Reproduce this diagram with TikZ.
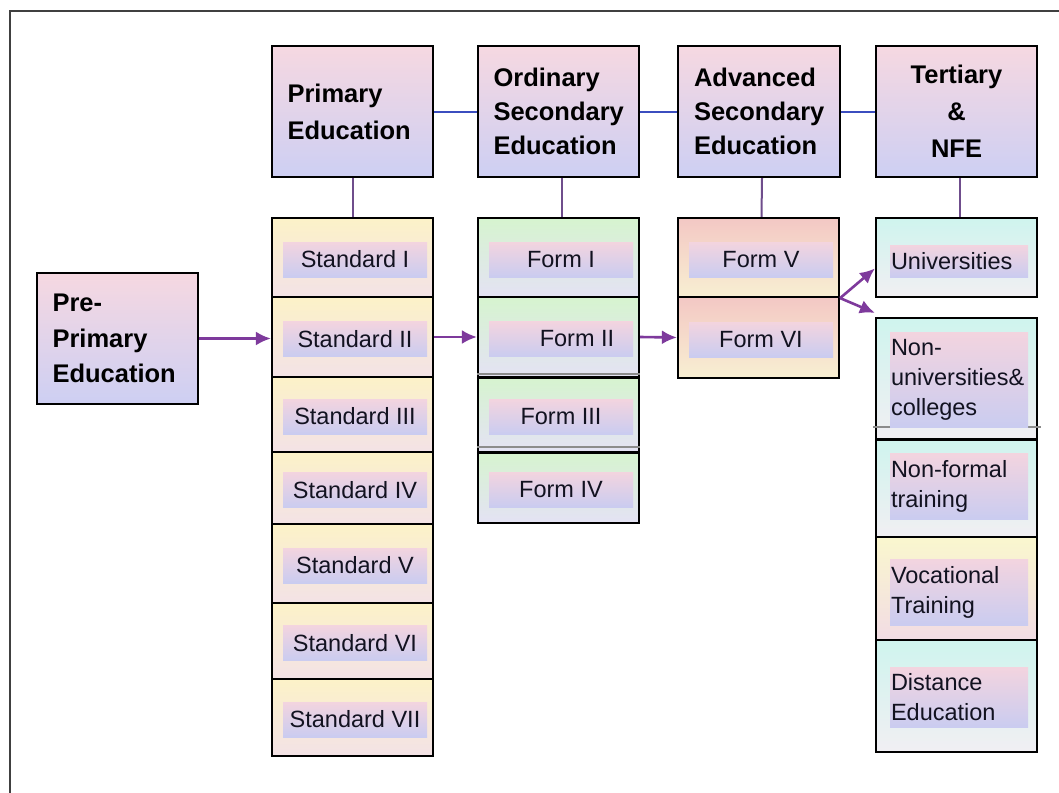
\documentclass[tikz,border=0pt]{standalone}
\usepackage{fontspec}
\setmainfont{Liberation Sans}
\usetikzlibrary{arrows.meta}

% header and label gradients
\definecolor{headtop}{HTML}{F6D8E1}
\definecolor{headbot}{HTML}{CDCFF3}
\definecolor{bandtop}{HTML}{F3D4DF}
\definecolor{bandbot}{HTML}{CACCF0}
% column backgrounds
\definecolor{stdtop}{HTML}{FCF2C8}
\definecolor{stdbot}{HTML}{F3E2E6}
\definecolor{frmtop}{HTML}{D6F4CF}
\definecolor{frmbot}{HTML}{E4E2F4}
\definecolor{advtop}{HTML}{F3C8C4}
\definecolor{advbot}{HTML}{F8EFD2}
\definecolor{tertop}{HTML}{CFF4EE}
\definecolor{terbot}{HTML}{F1EFF3}
\definecolor{voctop}{HTML}{FAF7CE}
\definecolor{vocbot}{HTML}{F2DCE4}
% connectors
\definecolor{linkblue}{HTML}{3B4DBF}
\definecolor{stemcol}{HTML}{6F4D8C}
\definecolor{flowcol}{HTML}{7E3A9C}
\definecolor{labeltext}{HTML}{121220}

\newcommand\hdfont{\fontsize{25.5}{34}\selectfont\bfseries}
\newcommand\lbfont{\fontsize{23.5}{30}\selectfont}

\begin{document}
\begin{tikzpicture}[x=1pt,y=-1pt,
  box/.style={draw=black,line width=2.2pt,inner sep=0pt,minimum width=161},
  head/.style={box,top color=headtop,bottom color=headbot,minimum height=131,
    text width=130,align=left,font=\hdfont},
  stdrow/.style={box,top color=stdtop,bottom color=stdbot},
  frmrow/.style={box,top color=frmtop,bottom color=frmbot},
  advrow/.style={box,top color=advtop,bottom color=advbot},
  terrow/.style={box,top color=tertop,bottom color=terbot},
  vocrow/.style={box,top color=voctop,bottom color=vocbot},
  band/.style={inner sep=0pt,top color=bandtop,bottom color=bandbot,
    minimum width=144,minimum height=35,font=\lbfont,text=labeltext},
  tband/.style={band,minimum width=138,text width=136,align=left,inner xsep=1pt},
  link/.style={linkblue,line width=2pt},
  stemline/.style={stemcol,line width=2pt},
  flowarrow/.style={flowcol,line width=2.6pt,-{Latex[length=15pt,width=14pt]}},
  ghost/.style={black!45,line width=2pt},
]
\useasboundingbox (0,0) rectangle (1059,792);
\fill[white] (0,0) rectangle (1059,792);
\begin{scope}
  \clip (0,0) rectangle (1059,792);
  \draw[black!75,line width=2pt] (10,11) rectangle (1090,830);
\end{scope}

% level headers
\node[head] (pre)  at (117.5,338.5) {Pre-\\[1.5pt]Primary\\[1.5pt]Education};
\node[head] (prim) at (352.5,111.5) {Primary\\[3pt]Education};
\node[head] (ord)  at (558.5,111.5) {Ordinary\\Secondary\\Education};
\node[head,minimum width=162] (adv) at (759,111.5) {Advanced\\Secondary\\Education};
\node[head,align=center] (ter) at (956.5,111.5) {Tertiary\\[3pt]\&\\[3pt]NFE};

% column rows
\foreach \n/\a/\b in {s1/218/297,s2/297/377,s3/377/452,s4/452/524,s5/524/603,s6/603/679,s7/679/756}
  \node[stdrow,minimum height={\b-\a}] (\n) at (352.5,{(\a+\b)/2}) {};
\foreach \n/\a/\b in {f1/218/297,f2/297/377,f3/377/452,f4/452/523}
  \node[frmrow,minimum height={\b-\a}] (\n) at (558.5,{(\a+\b)/2}) {};
\foreach \n/\a/\b in {a1/218/297,a2/297/378}
  \node[advrow,minimum height={\b-\a}] (\n) at (758.5,{(\a+\b)/2}) {};
\node[terrow,minimum height=79]  (uni) at (956.5,257.5) {};
\node[terrow,minimum height=121] (nu)  at (956.5,378.5) {};
\node[terrow,minimum height=98]  (nf)  at (956.5,488) {};
\node[vocrow,minimum height=103] (voc) at (956.5,588.5) {};
\node[terrow,minimum height=112] (de)  at (956.5,696) {};

% faint seams above some row borders
\draw[ghost] ([yshift=4pt]f2.south west) -- ([yshift=4pt]f2.south east);
\draw[ghost] ([yshift=6pt]f3.south west) -- ([yshift=6pt]f3.south east);
\draw[ghost] ([yshift=13pt,xshift=-2pt]nu.south west) -- ([yshift=13pt,xshift=3pt]nu.south east);
\draw[black,line width=2.2pt] (f2.south west) -- (f2.south east);
\draw[black,line width=2.2pt] (f3.south west) -- (f3.south east);
\draw[black,line width=2.2pt] (nu.south west) -- (nu.south east);

% labels on gradient bands
\foreach \n/\a/\b/\t in {s1/218/297/Standard I,s2/297/377/Standard II,s3/377/452/Standard III,
    s4/452/524/Standard IV,s5/524/603/Standard V,s6/603/679/Standard VI,s7/679/756/Standard VII}
  \node[band] (\n-t) at (355,{(\a+\b)/2+2}) {\t};
\foreach \n/\a/\b/\t in {f1/218/297/Form I,f2/297/377/{\hspace*{32pt}Form II},
    f3/377/452/Form III,f4/452/523/Form IV}
  \node[band] (\n-t) at (561,{(\a+\b)/2+2}) {\t};
\node[band] (a1-t) at (761,259.5) {Form V};
\node[band] (a2-t) at (761,339.5) {Form VI};
\node[tband,minimum height=32] (uni-t) at (959,261)   {Universities};
\node[tband,minimum height=95] (nu-t)  at (959,379.5) {Non-\\universities\&\\colleges};
\node[tband,minimum height=66] (nf-t)  at (959,486)   {Non-formal\\training};
\node[tband,minimum height=66] (voc-t) at (959,592)   {Vocational\\Training};
\node[tband,minimum height=60] (de-t)  at (959,697)   {Distance\\Education};

% links between the level headers
\draw[link] (prim.east) -- (ord.west);
\draw[link] (ord.east) -- (adv.west);
\draw[link] (adv.east) -- (ter.west);

% stems from headers to their columns
\draw[stemline] (prim.south) -- (s1.north);
\draw[stemline] ([xshift=3pt]ord.south) -- ([xshift=3pt]f1.north);
\draw[stemline] ([xshift=3pt]adv.south) -- ([xshift=3pt]a1.north);
\draw[stemline] ([xshift=3pt]ter.south) -- ([xshift=3pt]uni.north);

% progression arrows
\draw[flowarrow] (pre.east) -- (pre.east -| s2.west);
\draw[flowarrow] (s2.east) -- (f2.west);
\draw[flowarrow] (f2.east) -- (a2.west);
\coordinate (fork) at (a1.south east);
\draw[flowarrow] (fork) -- ([yshift=-11pt]uni.west);
\draw[flowarrow] (fork) -- ([yshift=4pt]nu.north west);
\end{tikzpicture}
\end{document}
